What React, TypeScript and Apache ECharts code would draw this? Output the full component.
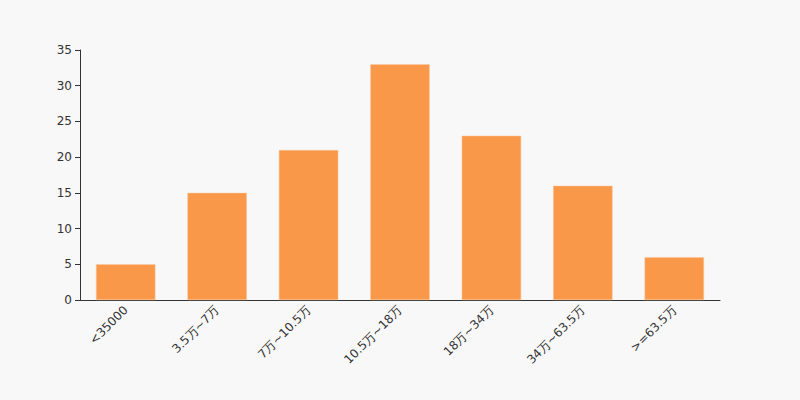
import React, { useEffect, useRef } from "react";
import * as echarts from "echarts";

const categories = ["<35000", "3.5万~7万", "7万~10.5万", "10.5万~18万", "18万~34万", "34万~63.5万", ">=63.5万"];
const values = [5, 15, 21, 33, 23, 16, 6];

export default function App() {
  const ref = useRef<HTMLDivElement>(null);
  useEffect(() => {
    const chart = echarts.init(ref.current!, null, { renderer: "svg" });
    chart.setOption({
      animation: false,
      backgroundColor: "#f8f8f8",
      textStyle: { fontFamily: "DejaVu Sans" },
      grid: { left: 80, right: 80, top: 50, bottom: 100 },
      xAxis: {
        type: "category",
        data: categories,
        axisLine: { lineStyle: { color: "#333" } },
        axisTick: { lineStyle: { color: "#333" } },
        axisLabel: { rotate: 45, color: "#333", fontSize: 12, interval: 0 },
      },
      yAxis: {
        type: "value",
        min: 0,
        max: 35,
        interval: 5,
        axisLine: { show: true, lineStyle: { color: "#333" } },
        axisTick: { show: true, lineStyle: { color: "#333" } },
        axisLabel: { color: "#333", fontSize: 12 },
        splitLine: { show: false },
      },
      series: [
        {
          type: "bar",
          data: values,
          barWidth: "65%",
          itemStyle: { color: "#f99848", borderColor: "#fbc9a0", borderWidth: 0.5 },
        },
      ],
    });
    return () => chart.dispose();
  }, []);
  return <div ref={ref} style={{ width: 800, height: 400, position: "absolute", left: 0, top: 0 }} />;
}
